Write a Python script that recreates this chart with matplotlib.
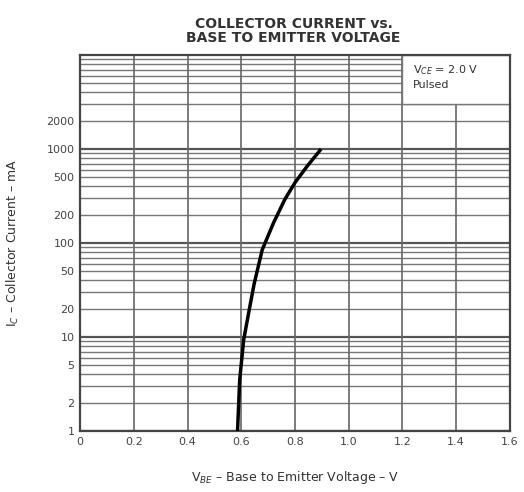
import numpy as np
import matplotlib
matplotlib.use("Agg")
import matplotlib.pyplot as plt
from matplotlib.patches import Rectangle

# curve
vbe = [0.586, 0.594, 0.609, 0.63, 0.648, 0.678, 0.72, 0.762, 0.80, 0.846, 0.897]
ic = [1, 3.5, 9.4, 19.8, 37, 85, 164, 291, 440, 662, 1000]

x_ticks = [0, 0.2, 0.4, 0.6, 0.8, 1.0, 1.2, 1.4, 1.6]
x_labels = ["0", "0.2", "0.4", "0.6", "0.8", "1.0", "1.2", "1.4", "1.6"]
y_ticks = [1, 2, 5, 10, 20, 50, 100, 200, 500, 1000, 2000]

fig = plt.figure(figsize=(5.24, 4.92), dpi=100)
ax = fig.add_axes([0.153, 0.124, 0.82, 0.764])

ax.set_yscale("log")
ax.set_xlim(0, 1.6)
ax.set_ylim(1, 10000)

# horizontal log grid
for dec in [1, 10, 100, 1000]:
    for k in range(1, 10):
        v = dec * k
        ax.axhline(v, color="#555555" if k == 1 else "#777777",
                   lw=1.6 if k == 1 else 1.0, zorder=1)
for xv in x_ticks[1:-1]:
    ax.axvline(xv, color="#666666", lw=1.2, zorder=1)

# legend box at top right
ax.add_patch(Rectangle((1.2, 3000), 0.4, 7000, facecolor="white",
                       edgecolor="#777777", lw=1.0, zorder=2))
ax.text(1.24, 8300, "V$_{CE}$ = 2.0 V\nPulsed", fontsize=8, va="top",
        color="#333333", zorder=3, linespacing=1.4)

ax.plot(vbe, ic, color="black", lw=2.5, zorder=4, solid_capstyle="butt")

ax.set_xticks(x_ticks)
ax.set_xticklabels(x_labels)
ax.set_yticks(y_ticks)
ax.set_yticklabels([str(t) for t in y_ticks])
ax.minorticks_off()
ax.tick_params(labelsize=8, length=0, colors="#444444", pad=4)
for s in ax.spines.values():
    s.set_color("#444444")
    s.set_linewidth(1.6)

ax.set_xlabel("V$_{BE}$ – Base to Emitter Voltage – V", fontsize=9,
              color="#333333", labelpad=16)
ax.set_ylabel("I$_C$ – Collector Current – mA", fontsize=9,
              color="#333333", labelpad=18)

fig.text(0.56, 0.965, "COLLECTOR CURRENT vs.\nBASE TO EMITTER VOLTAGE",
         ha="center", va="top", fontsize=10, fontweight="bold",
         color="#333333", linespacing=1.0)

fig.savefig("out.png", dpi=100)
